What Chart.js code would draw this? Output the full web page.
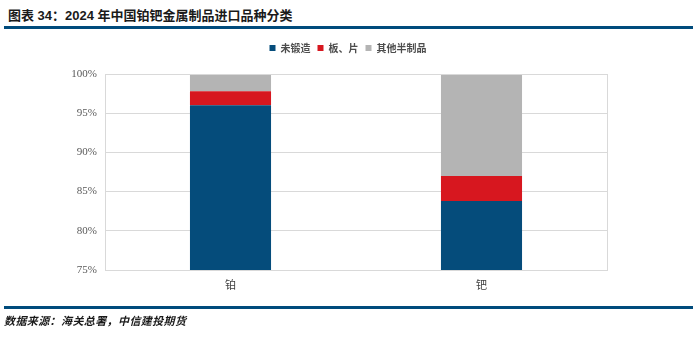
<html lang="zh">
<head>
  <meta charset="UTF-8">
  <title>2024年中国铂钯金属制品进口品种分类</title>
  <script src="https://cdn.jsdelivr.net/npm/chart.js"></script>
  <style>
    body, html {
      margin: 0;
      padding: 0;
      background: #fff;
      font-family: "Noto Sans CJK SC", "Liberation Sans", sans-serif;
    }
    .page { position: relative; width: 696px; height: 342px; overflow: hidden; }
    .title {
      position: absolute; left: 8px; top: 5px;
      font-size: 13px; font-weight: bold; color: #1a1a1a;
      font-family: "Liberation Sans", "Noto Sans CJK SC", sans-serif;
    }
    .rule { position: absolute; left: 4px; width: 689px; height: 3px; background: #004b7c; }
    .source {
      position: absolute; left: 4px; top: 312px;
      font-size: 11px; font-weight: bold; font-style: italic; color: #1a1a1a;
      letter-spacing: 0.4px;
    }
    #chartBox { position: absolute; left: 0; top: 0; width: 696px; height: 342px; }
  </style>
</head>
<body>
<div class="page">
  <div class="title">图表 34：2024 年中国铂钯金属制品进口品种分类</div>
  <div class="rule" style="top:26px"></div>
  <div id="chartBox"><canvas id="myChart" width="696" height="342"></canvas></div>
  <div class="rule" style="top:306px"></div>
  <div class="source">数据来源：海关总署，中信建投期货</div>
</div>

<script>
  // data (share of import value, %)
  const categories = ['铂', '钯'];
  const unwrought = [96.0, 83.8];   // 未锻造
  const plates = [1.8, 3.2];        // 板、片
  const otherSemi = [2.2, 13.0];    // 其他半制品
  const yTicks = [75, 80, 85, 90, 95, 100];

  // outline the plot area like the original
  const frame = {
    id: 'frame',
    afterDraw(chart) {
      const a = chart.chartArea, c = chart.ctx;
      c.save();
      c.strokeStyle = '#d9d9d9';
      c.lineWidth = 1;
      c.strokeRect(Math.round(a.left) + 0.5, Math.round(a.top) + 0.5,
                   Math.round(a.right - a.left), Math.round(a.bottom - a.top));
      c.restore();
    }
  };

  // extra room under the legend
  const legendGap = {
    id: 'legendGap',
    beforeInit(chart) {
      const fit = chart.legend.fit;
      chart.legend.fit = function () {
        fit.bind(chart.legend)();
        this.height += 11;
      };
    }
  };

  const ctx = document.getElementById('myChart').getContext('2d');
  new Chart(ctx, {
    type: 'bar',
    data: {
      labels: categories,
      datasets: [
        { label: '未锻造', data: unwrought, backgroundColor: '#054c7b' },
        { label: '板、片', data: plates, backgroundColor: '#d7171f' },
        { label: '其他半制品', data: otherSemi, backgroundColor: '#b4b4b4' }
      ]
    },
    options: {
      responsive: false,
      animation: false,
      layout: { padding: { top: 36, right: 0, bottom: 0, left: 0 } },
      datasets: { bar: { categoryPercentage: 1, barPercentage: 0.323, borderWidth: 0 } },
      scales: {
        x: {
          stacked: true,
          grid: { display: false },
          border: { display: false },
          ticks: { color: '#404040', padding: 0, font: { size: 11, family: 'Noto Sans CJK SC' } },
          afterFit(s) { s.height = 72; }
        },
        y: {
          stacked: true,
          min: 75,
          max: 100,
          afterBuildTicks(s) { s.ticks = yTicks.map(v => ({ value: v })); },
          grid: { color: '#d9d9d9', drawTicks: false },
          border: { display: false },
          ticks: {
            color: '#595959',
            padding: 8,
            font: { size: 11, family: 'Liberation Serif' },
            callback: v => v + '%'
          },
          afterFit(s) { s.width = 105; }
        },
        yRight: {
          type: 'linear',
          position: 'right',
          display: true,
          grid: { display: false },
          border: { display: false },
          ticks: { display: false },
          afterFit(s) { s.width = 89; }
        }
      },
      plugins: {
        legend: {
          position: 'top',
          labels: {
            boxWidth: 6,
            boxHeight: 6,
            padding: 7,
            color: '#4d4d4d',
            font: { size: 10, weight: 'bold', family: 'Noto Sans CJK SC' }
          }
        },
        tooltip: { enabled: false }
      }
    },
    plugins: [frame, legendGap]
  });
</script>
</body>
</html>
